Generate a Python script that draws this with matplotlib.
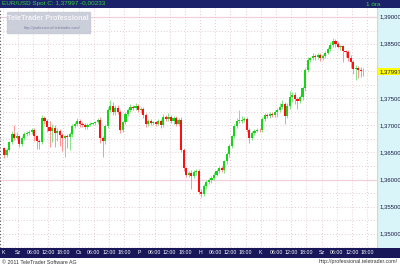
import numpy as np
import matplotlib
matplotlib.use('Agg')
import matplotlib.pyplot as plt

plt.rcParams['font.family'] = ['Liberation Sans', 'DejaVu Sans']

# hourly EUR/USD candles (closes), first open separately
first_open = 1.3658
closes = [
    1.3645, 1.3655, 1.3669, 1.3684, 1.3677, 1.3680, 1.3666, 1.3677, 1.3684, 1.3686,
    1.3688, 1.3692, 1.3680, 1.3671, 1.3669, 1.3714, 1.3708, 1.3697, 1.3690, 1.3695,
    1.3686, 1.3690, 1.3682, 1.3677, 1.3680, 1.3679, 1.3684, 1.3699, 1.3703, 1.3708,
    1.3703, 1.3701, 1.3697, 1.3701, 1.3703, 1.3704, 1.3706, 1.3710, 1.3677, 1.3671,
    1.3699, 1.3728, 1.3736, 1.3725, 1.3732, 1.3725, 1.3692, 1.3706, 1.3721, 1.3728,
    1.3734, 1.3732, 1.3736, 1.3728, 1.3730, 1.3719, 1.3703, 1.3708, 1.3704, 1.3706,
    1.3703, 1.3708, 1.3701, 1.3716, 1.3712, 1.3716, 1.3708, 1.3714, 1.3703, 1.3710,
    1.3655, 1.3621, 1.3609, 1.3612, 1.3607, 1.3614, 1.3616, 1.3577, 1.3573, 1.3588,
    1.3596, 1.3599, 1.3603, 1.3609, 1.3616, 1.3621, 1.3618, 1.3634, 1.3647, 1.3662,
    1.3680, 1.3699, 1.3708, 1.3708, 1.3710, 1.3712, 1.3692, 1.3677, 1.3686, 1.3690,
    1.3692, 1.3691, 1.3712, 1.3719, 1.3717, 1.3721, 1.3719, 1.3725, 1.3728, 1.3734,
    1.3740, 1.3717, 1.3736, 1.3752, 1.3756, 1.3749, 1.3745, 1.3752, 1.3769, 1.3802,
    1.3821, 1.3824, 1.3828, 1.3826, 1.3830, 1.3824, 1.3828, 1.3834, 1.3841, 1.3848,
    1.3856, 1.3850, 1.3845, 1.3846, 1.3837, 1.3835, 1.3824, 1.3817, 1.3804, 1.3806,
    1.3802, 1.3801, 1.37997,
]
# wick lengths beyond the body, in pips
wick_up = [
    3, 3, 3, 6, 17, 8, 3, 3, 3, 3, 4, 3, 3, 3, 4, 5, 4, 4, 12, 8,
    6, 5, 4, 4, 3, 4, 3, 4, 4, 5, 3, 3, 3, 3, 3, 3, 3, 4, 5, 3,
    4, 6, 10, 8, 6, 5, 4, 3, 4, 4, 5, 4, 6, 4, 4, 4, 3, 3, 4, 3,
    3, 4, 3, 5, 4, 6, 4, 4, 4, 4, 6, 3, 3, 4, 5, 4, 3, 4, 5, 4,
    3, 4, 4, 5, 4, 4, 5, 3, 3, 4, 3, 4, 5, 20, 8, 4, 4, 4, 3, 3,
    3, 3, 4, 4, 3, 4, 4, 4, 5, 8, 6, 4, 6, 12, 6, 5, 4, 4, 4, 4,
    5, 3, 5, 3, 4, 3, 4, 3, 4, 6, 5, 3, 4, 3, 3, 3, 4, 5, 4, 6,
    3, 5, 4,
]
wick_dn = [
    5, 4, 3, 3, 4, 4, 6, 4, 4, 3, 3, 4, 8, 14, 12, 4, 5, 10, 30, 20,
    25, 15, 20, 25, 35, 20, 25, 5, 4, 4, 6, 4, 4, 3, 3, 3, 3, 3, 10, 30,
    5, 4, 4, 6, 5, 4, 6, 5, 4, 3, 4, 4, 4, 4, 5, 6, 6, 4, 4, 4,
    4, 3, 5, 4, 4, 4, 4, 5, 4, 4, 5, 5, 5, 5, 25, 4, 5, 4, 5, 4,
    5, 4, 5, 4, 3, 4, 4, 5, 5, 5, 4, 3, 4, 4, 4, 4, 5, 10, 4, 4,
    3, 3, 4, 4, 4, 3, 3, 4, 10, 4, 4, 14, 4, 6, 8, 10, 14, 4, 5, 5,
    4, 4, 4, 5, 4, 5, 3, 4, 3, 4, 3, 5, 3, 6, 20, 8, 6, 12, 10, 20,
    14, 12, 8,
]
price_ticks = [1.350, 1.355, 1.360, 1.365, 1.370, 1.375, 1.380, 1.385, 1.390]
day_names = ['Sz', 'Cs', 'P', 'H', 'K', 'Sz']
hour_names = ['06:00', '12:00', '18:00']
last_price = 1.37997

c = np.array(closes)
o = np.array([first_open] + closes[:-1])
hi = np.maximum(o, c) + np.array(wick_up) * 0.0001
lo = np.minimum(o, c) - np.array(wick_dn) * 0.0001
x = np.arange(len(c))
bull = c >= o

W, H = 400, 266


def rect(x0, y0, x1, y1):
    return [x0 / W, 1 - y1 / H, (x1 - x0) / W, (y1 - y0) / H]


fig = plt.figure(figsize=(4, 2.66), dpi=100)
fig.patch.set_facecolor('white')

xmin, xmax = -1.58, 147.43
ymin, ymax = 1.34738, 1.39166

ax = fig.add_axes(rect(0, 8, 377, 248))
ax.set_xlim(xmin, xmax)
ax.set_ylim(ymin, ymax)
ax.set_facecolor('white')
for s in ax.spines.values():
    s.set_visible(False)
ax.set_xticks([])
ax.set_yticks([])

# grid
for v in np.arange(1.3475, 1.3920, 0.0025):
    if abs(v - 1.36) < 1e-6 or abs(v - 1.39) < 1e-6:
        ax.axhline(v, color='#f2d0de', lw=0.9, zorder=0)
    else:
        ax.axhline(v, color='#dcbcc4', lw=0.6, ls=(0, (1, 2.5)), zorder=0)
for xv in range(0, 148, 6):
    ax.axvline(xv - 0.5, color='#dcbcc4', lw=0.6, ls=(0, (1, 2.5)), zorder=0)
ax.axvline(xmin + 0.15, color='#555555', lw=0.8, ls=(0, (1, 2)))

# candles
ax.vlines(x[bull], lo[bull], hi[bull], color='#86e286', lw=0.7, zorder=2)
ax.vlines(x[~bull], lo[~bull], hi[~bull], color='#ff9494', lw=0.7, zorder=2)
body = np.maximum(np.abs(c - o), 0.00012)
ax.bar(x, body, bottom=np.minimum(o, c), width=0.85,
       color=np.where(bull, '#18d418', '#ff1010'), linewidth=0, zorder=3)

# watermark
fig.patches.append(plt.Rectangle((7 / W, 1 - 33 / H), 83 / W, 21 / H,
                                 transform=fig.transFigure, color='#c6cad6',
                                 alpha=0.9, zorder=5))
fig.text(48 / W, 1 - 19 / H, 'TeleTrader Professional', fontsize=5.2,
         fontweight='bold', color='#f4f4f8', ha='center', va='center', zorder=6)
fig.text(52 / W, 1 - 27.5 / H, 'http://professional.teletrader.com/',
         fontsize=2.8, color='#7a80a0', ha='center', va='center', zorder=6)

# right price panel
axr = fig.add_axes(rect(377, 8, 400, 248))
axr.set_xlim(0, 1)
axr.set_ylim(ymin, ymax)
axr.set_facecolor('#d9f5fa')
for s in axr.spines.values():
    s.set_visible(False)
axr.axvline(0, color='#e0dca0', lw=1.0)
axr.set_xticks([])
axr.set_yticks([])
for v in price_ticks:
    axr.text(0.1, v, f'{v:.5f}'.replace('.', ','), fontsize=4.3,
             color='#1a1a40', va='center', ha='left')
axr.text(0.1, last_price, f'{last_price:.5f}'.replace('.', ','), fontsize=4.3,
         color='#1a1a40', va='center', ha='left',
         bbox=dict(boxstyle='square,pad=0.15', fc='#ffff00', ec='none'))

# top bar
axt = fig.add_axes(rect(0, 0, 400, 8))
axt.set_facecolor('#1c226a')
axt.set_xticks([])
axt.set_yticks([])
for s in axt.spines.values():
    s.set_visible(False)
axt.text(0.004, 0.5, 'EUR/USD Spot C: 1,37997 -0,00233', fontsize=4.6,
         color='#3ad23a', va='center', ha='left', transform=axt.transAxes)
axt.text(0.915, 0.5, '1 óra', fontsize=4.6, color='#3ad23a',
         va='center', ha='left', transform=axt.transAxes)

# bottom time bar
axb = fig.add_axes(rect(0, 248, 400, 258))
axb.set_xlim(xmin, xmin + (xmax - xmin) * 400 / 377)
axb.set_ylim(0, 1)
axb.set_facecolor('#17175a')
axb.set_xticks([])
axb.set_yticks([])
for s in axb.spines.values():
    s.set_visible(False)
axb.text(xmin + 0.5, 0.5, 'K', fontsize=3.8, color='white', va='center', ha='left')
for d, name in enumerate(day_names):
    mid = 6 + 24 * d
    axb.text(mid - 0.5, 0.5, name, fontsize=3.8, color='white', va='center', ha='center')
    for k, hn in enumerate(hour_names):
        axb.text(mid + 6 * (k + 1) - 0.5, 0.5, hn, fontsize=3.8, color='white',
                 va='center', ha='center')

# footer
fig.text(2 / W, 1 - 262 / H, '© 2011 TeleTrader Software AG', fontsize=3.8,
         color='#333333', va='center', ha='left')
fig.text(398 / W, 1 - 262 / H, 'http://professional.teletrader.com/', fontsize=3.8,
         color='#333333', va='center', ha='right')

fig.savefig('out.png', dpi=100)
